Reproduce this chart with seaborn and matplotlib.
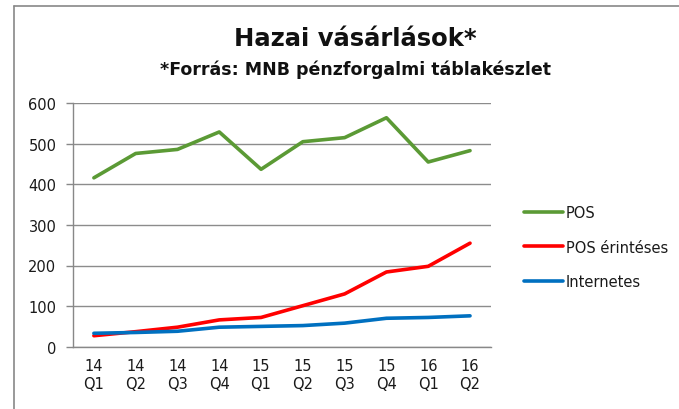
import pandas as pd
import matplotlib.pyplot as plt
import seaborn as sns
from matplotlib.lines import Line2D

sns.set_style("white")
plt.rcParams['font.family'] = ['DejaVu Sans']

quarters = ["14\nQ1", "14\nQ2", "14\nQ3", "14\nQ4", "15\nQ1",
            "15\nQ2", "15\nQ3", "15\nQ4", "16\nQ1", "16\nQ2"]
pos = [416, 476, 486, 529, 437, 505, 515, 564, 455, 483]
pos_contactless = [27, 37, 48, 66, 72, 101, 130, 184, 198, 255]
internet = [33, 35, 38, 48, 50, 52, 58, 70, 72, 76]

series_names = ["POS", "POS érintéses", "Internetes"]
colors = ["#5B9A35", "#FF0000", "#0070C0"]

df = pd.DataFrame({
    "idx": list(range(len(quarters))) * 3,
    "value": pos + pos_contactless + internet,
    "series": [series_names[0]] * 10 + [series_names[1]] * 10 + [series_names[2]] * 10,
})

fig = plt.figure(figsize=(6.79, 4.10), dpi=100)
ax = fig.add_axes([0.1075, 0.152, 0.6155, 0.594])

sns.lineplot(data=df, x="idx", y="value", hue="series", hue_order=series_names,
             palette=colors, linewidth=2.6, ax=ax, legend=False)

ax.set_xlim(-0.5, 9.5)
ax.set_ylim(0, 600)
ax.set_yticks(range(0, 601, 100))
ax.set_xticks(range(10))
ax.set_xticklabels(quarters, fontsize=10.5, color="#1a1a1a", linespacing=1.25)
ax.set_xticks([i - 0.5 for i in range(11)], minor=True)
ax.tick_params(axis="x", which="major", length=0, pad=8)
ax.tick_params(axis="x", which="minor", length=5, color="#888888", width=1)
ax.tick_params(axis="y", length=5, color="#888888", width=1, labelsize=10.5,
               labelcolor="#1a1a1a", pad=7, left=True)
ax.set_xlabel("")
ax.set_ylabel("")
ax.yaxis.grid(True, color="#8c8c8c", linewidth=1)
ax.xaxis.grid(False)
ax.set_axisbelow(True)
for side in ["top", "right"]:
    ax.spines[side].set_visible(False)
for side in ["left", "bottom"]:
    ax.spines[side].set_color("#888888")
    ax.spines[side].set_linewidth(1)

fig.text(0.523, 0.905, "Hazai vásárlások*", ha="center", va="center",
         fontsize=17.5, fontweight="bold", color="#111111")
fig.text(0.523, 0.83, "*Forrás: MNB pénzforgalmi táblakészlet", ha="center",
         va="center", fontsize=12.5, fontweight="bold", color="#111111")

handles = [Line2D([0], [0], color=c, linewidth=2.6) for c in colors]
fig.legend(handles, series_names, loc="upper left", bbox_to_anchor=(0.752, 0.53),
           frameon=False, fontsize=10.5, handlelength=2.7, handletextpad=0.2,
           labelspacing=1.35, labelcolor="#1a1a1a")

fig.add_artist(Line2D([0.021, 0.021], [0, 0.983], transform=fig.transFigure,
                      color="#888888", linewidth=1.2))
fig.add_artist(Line2D([0.021, 1.0], [0.983, 0.983], transform=fig.transFigure,
                      color="#888888", linewidth=1.2))

fig.savefig("out.png", dpi=100)
